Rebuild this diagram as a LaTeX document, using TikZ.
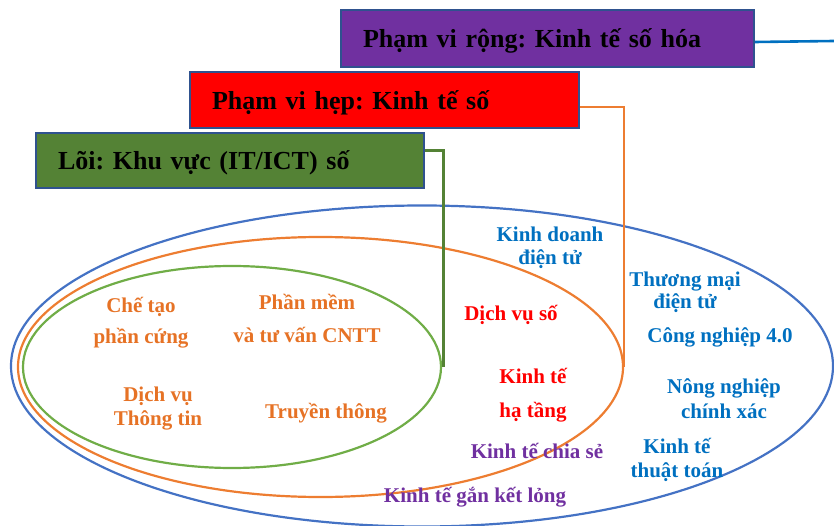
\documentclass[tikz,border=0pt]{standalone}
\usepackage{fontspec}
\setmainfont{Liberation Serif}
\usetikzlibrary{shapes.geometric}
\frenchspacing
\definecolor{boxborder}{HTML}{2F528F}
\definecolor{purplefill}{HTML}{7030A0}
\definecolor{redfill}{HTML}{FF0000}
\definecolor{greenfill}{HTML}{548235}
\definecolor{ellblue}{HTML}{4472C4}
\definecolor{ellorange}{HTML}{ED7D31}
\definecolor{ellgreen}{HTML}{70AD47}
\definecolor{linkblue}{HTML}{0070C0}
\definecolor{txtorange}{HTML}{E67225}
\definecolor{txtblue}{HTML}{0070C0}
\definecolor{txtred}{HTML}{FF0000}
\definecolor{txtpurple}{HTML}{7030A0}
\newcommand\twoln[3]{\begin{tabular}[t]{@{}c@{}}\smash{#1}\\[#3]\smash{#2}\end{tabular}}
\begin{document}
\begin{tikzpicture}[x=1pt,y=-1pt,
  titlebox/.style={draw=boxborder, line width=2pt, anchor=north west,
    inner xsep=22pt, inner ysep=0pt, align=left,
    text height=23pt, text depth=4pt,
    font=\fontsize{26}{30}\selectfont\bfseries\frenchspacing, text=black},
  ell/.style={ellipse, draw, line width=2.2pt, inner sep=0pt},
  lbl/.style={anchor=base, inner sep=0pt, font=\fontsize{21}{22}\selectfont\bfseries\frenchspacing},
  otxt/.style={lbl, text=txtorange},
  rtxt/.style={lbl, text=txtred},
  ptxt/.style={lbl, text=txtpurple},
  btxt/.style={lbl, text=txtblue},
  conn/.style={line width=2.6pt}
]
\useasboundingbox (0,0) rectangle (834,526);

% ellipses
\node[ell, draw=ellblue, minimum width=822pt, minimum height=321pt] (ellB) at (422,366) {};
\node[ell, draw=ellorange, minimum width=605pt, minimum height=260pt] (ellO) at (320.5,367) {};
\node[ell, draw=ellgreen, minimum width=418pt, minimum height=202pt] (ellG) at (232,367) {};

% title boxes
\node[titlebox, fill=purplefill, minimum width=413pt, minimum height=57pt, text width=369pt] (purple) at (340,9) {Phạm vi rộng: Kinh tế số hóa};
\node[titlebox, fill=redfill, minimum width=389pt, minimum height=56pt, text width=345pt] (red) at (189,71) {Phạm vi hẹp: Kinh tế số};
\node[titlebox, fill=greenfill, minimum width=388pt, minimum height=55pt, text width=344pt] (green) at (35,132) {Lõi: Khu vực (IT/ICT) số};

% connectors
\coordinate (bEnd) at (834,41);
\draw[conn, linkblue] ([yshift=-3.5pt]purple.east) -- (bEnd);
\draw[conn, ellorange] ([yshift=-7pt]red.east) -| (ellO.east);
\draw[conn, greenfill] ([yshift=10pt]green.east) -| ([xshift=1.5pt]ellG.east);

% inner texts
\node[otxt] (chetao) at (141,312) {\twoln{Chế tạo}{phần cứng}{9pt}};
\node[otxt] (phanmem) at (307,309) {\twoln{Phần mềm}{và tư vấn CNTT}{11pt}};
\node[otxt] (dichvutt) at (158,401) {\twoln{Dịch vụ}{Thông tin}{2pt}};
\node[otxt] (truyenthong) at (326,418) {Truyền thông};

\node[rtxt] (dvso) at (511,320) {Dịch vụ số};
\node[rtxt] (kthatang) at (533,383) {\twoln{Kinh tế}{hạ tầng}{12pt}};

\node[ptxt] (chiase) at (537,458) {Kinh tế chia sẻ};
\node[ptxt] (ganket) at (475,502) {Kinh tế gắn kết lỏng};

\node[btxt] (kd) at (550,242) {\twoln{Kinh doanh}{điện tử}{1pt}};
\node[btxt] (tm) at (685,287) {\twoln{Thương mại}{điện tử}{0pt}};
\node[btxt] (cn) at (720,342) {Công nghiệp 4.0};
\node[btxt] (nn) at (724,393) {\twoln{Nông nghiệp}{chính xác}{3pt}};
\node[btxt] (kttt) at (677,453) {\twoln{Kinh tế}{thuật toán}{2pt}};
\end{tikzpicture}
\end{document}
